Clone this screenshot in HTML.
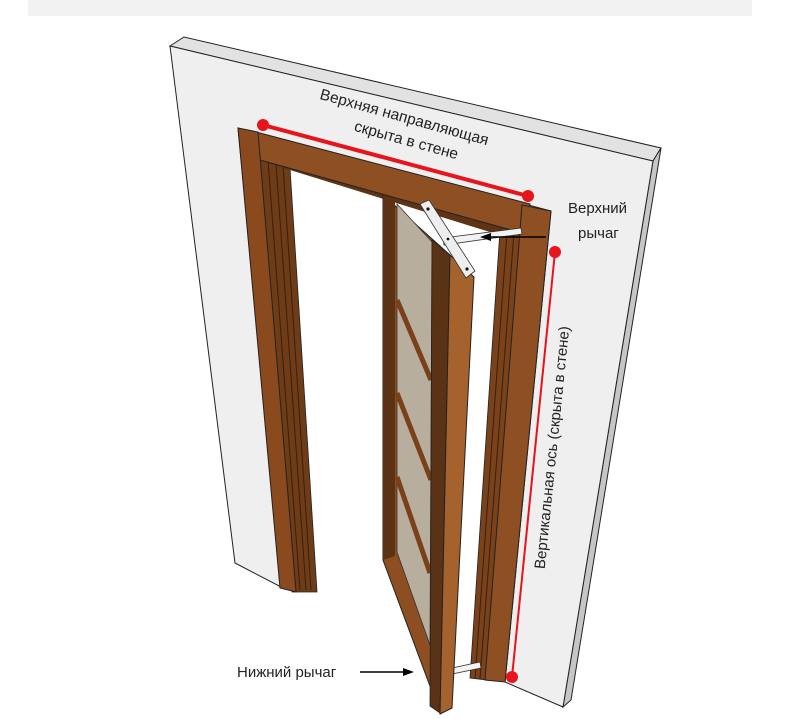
<!DOCTYPE html>
<html><head><meta charset="utf-8"><style>
html,body{margin:0;padding:0;background:#fff;width:807px;height:719px;overflow:hidden}
svg{display:block}
text{font-family:"Liberation Sans","DejaVu Sans",sans-serif;fill:#222}
</style></head><body>
<svg width="807" height="719" viewBox="0 0 807 719" xmlns="http://www.w3.org/2000/svg">
<rect x="28" y="0" width="724" height="16" fill="#f2f2f2"/>
<polygon points="170,46 184,37 661,148 653,161" fill="#e2e2e2" stroke="#222" stroke-width="1"/>
<polygon points="653,161 661,148 571,700 563,707" fill="#c6c6c6" stroke="#222" stroke-width="1"/>
<path d="M170,46 L653,161 L563,707 L505,682 L551,211 L238,128 L283,588 L235,563 Z" fill="#efefef" stroke="#222" stroke-width="1"/>
<polygon points="258,150 290,168 317,592 292,592" fill="#6f3c18" stroke="#222" stroke-width="0.8"/>
<line x1="268" y1="160" x2="300" y2="590" stroke="#3a1f0a" stroke-width="1"/>
<line x1="276" y1="163" x2="306" y2="590" stroke="#3a1f0a" stroke-width="1"/>
<line x1="283" y1="166" x2="311" y2="590" stroke="#3a1f0a" stroke-width="1"/>
<polygon points="260,160 522,231 506,237 290,170" fill="#5e3315"/>
<polygon points="256,132 530,204 522,233 260,160" fill="#8e4f22" stroke="#222" stroke-width="1"/>
<polygon points="238,128 258,132 296,592 280,588" fill="#8a4a1e" stroke="#222" stroke-width="1"/>
<polygon points="500,230 522,233 487,680 470,678" fill="#7a421a" stroke="#222" stroke-width="0.8"/>
<line x1="507" y1="232" x2="475" y2="679" stroke="#3a1f0a" stroke-width="1"/>
<line x1="514" y1="232" x2="480" y2="679" stroke="#3a1f0a" stroke-width="1"/>
<polygon points="522,205 551,211 505,682 485,680" fill="#8e4f22" stroke="#222" stroke-width="1"/>
<polygon points="452,668 480,662 481,668 452,674" fill="#f4f4f4" stroke="#333" stroke-width="0.8"/>
<polygon points="443,238 521,228 522,234 444,245" fill="#f2f2f2" stroke="#333" stroke-width="0.8"/>
<polygon points="383,195 450,255 440,713 383,560" fill="#8d4e21" stroke="#222" stroke-width="1"/>
<polygon points="383,195 395,200 395,556 383,560" fill="#5c3214"/>
<polygon points="397,204 432,242 430,645 397,552" fill="#b8ae9e" stroke="#333" stroke-width="0.8"/>
<g stroke="#7a4019" stroke-width="5">
<line x1="397" y1="300" x2="431" y2="380"/>
<line x1="397" y1="393" x2="431" y2="480"/>
<line x1="397" y1="477" x2="430" y2="573"/>
</g>
<polygon points="432,240 450,255 440,713 430,706" fill="#5a3215" stroke="#222" stroke-width="0.8"/>
<polygon points="450,255 474,277 452,708 440,714" fill="#a5622c" stroke="#222" stroke-width="1"/>
<polygon points="420,204 429,200 475,271 466,278" fill="#eeeeee" stroke="#333" stroke-width="0.8"/>
<circle cx="428" cy="209" r="1.6" fill="#111"/><circle cx="467" cy="269" r="1.6" fill="#111"/><circle cx="448" cy="239" r="1.4" fill="#111"/>
<line x1="263" y1="125" x2="528" y2="196" stroke="#e8141b" stroke-width="4"/>
<circle cx="263" cy="125" r="6" fill="#e8141b"/><circle cx="528" cy="196" r="6" fill="#e8141b"/>
<line x1="555" y1="252" x2="512" y2="677" stroke="#e8141b" stroke-width="2"/>
<circle cx="555" cy="252" r="6" fill="#e8141b"/><circle cx="512" cy="677" r="6" fill="#e8141b"/>
<text x="403" y="122" font-size="15.5" text-anchor="middle" transform="rotate(15.5 403 122)">Верхняя направляющая</text>
<text x="405" y="145" font-size="15.5" text-anchor="middle" transform="rotate(15.5 405 145)">скрыта в стене</text>
<text x="568" y="213" font-size="15">Верхний</text>
<text x="578" y="238" font-size="15">рычаг</text>
<line x1="546" y1="237" x2="488" y2="237" stroke="#000" stroke-width="1.5"/>
<polygon points="480,237 491,233 491,241" fill="#000"/>
<text x="557" y="448" font-size="15" text-anchor="middle" transform="rotate(-84.2 557 448)">Вертикальная ось (скрыта в стене)</text>
<text x="237" y="677" font-size="15">Нижний рычаг</text>
<line x1="360" y1="672" x2="406" y2="672" stroke="#000" stroke-width="1.5"/>
<polygon points="414,672 403,668 403,676" fill="#000"/>
</svg>
</body></html>
